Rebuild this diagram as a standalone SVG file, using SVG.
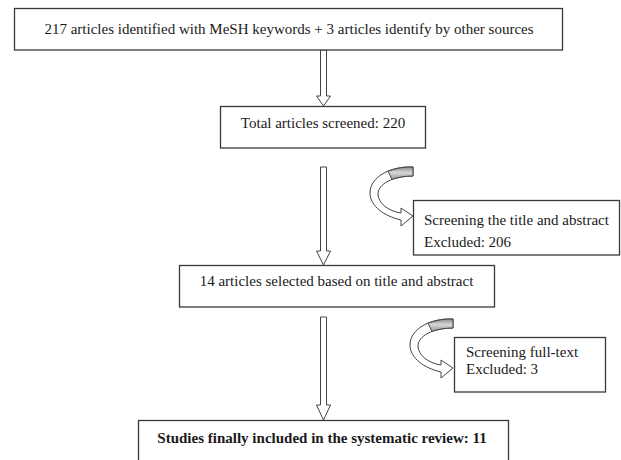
<svg xmlns="http://www.w3.org/2000/svg" width="621" height="460" viewBox="0 0 621 460">
  <style>
    .box { fill: #ffffff; stroke: #3a3a3a; stroke-width: 1.3; }
    .lbl { font-family: "Liberation Serif", "Times New Roman", serif; font-size: 15px; fill: #1a1a1a; }
    .mid { text-anchor: middle; }
    .bold { font-weight: bold; }
    .blk { fill: #ffffff; stroke: #444444; stroke-width: 1; stroke-linejoin: miter; }
    .back { fill: url(#backShade); stroke: #444444; stroke-width: 1; }
  </style>
  <defs>
    <linearGradient id="backShade" x1="0" y1="0" x2="0" y2="1">
      <stop offset="0" stop-color="#8a8a8a"/>
      <stop offset="0.45" stop-color="#d6d6d6"/>
      <stop offset="1" stop-color="#9c9c9c"/>
    </linearGradient>
    <!-- curved block arrow that bends left and points right into a side box -->
    <g id="curvedArrow">
      <path class="blk" d="M 413 167 C 390 166, 370 177, 370 193 C 370 206, 384 216, 401 220 L 401 226 L 413 216 L 401 208 L 401 213 C 388 211, 378 203, 378 194 C 378 184, 393 176, 413 176 Z"/>
      <path class="back" d="M 413 167 C 404 166.6, 395 168.5, 388 171.2 L 392 179.4 C 398 177, 406 176, 413 176 Z"/>
    </g>
  </defs>

  <rect width="621" height="460" fill="#ffffff"/>

  <g id="connectors">
    <!-- hollow block arrows down the main column -->
    <path class="blk" d="M 320.5 50 L 326.5 50 L 326.5 96 L 330.5 96 L 323.5 106 L 316.5 96 L 320.5 96 Z"/>
    <path class="blk" d="M 320.5 167 L 326.5 167 L 326.5 251 L 330.5 251 L 323.5 265 L 316.5 251 L 320.5 251 Z"/>
    <path class="blk" d="M 320.5 317 L 326.5 317 L 326.5 405 L 330.5 405 L 323.5 420 L 316.5 405 L 320.5 405 Z"/>
    <!-- exclusion branches -->
    <use href="#curvedArrow"/>
    <use href="#curvedArrow" transform="translate(40,152)"/>
  </g>

  <g id="identified">
    <rect class="box" x="14.5" y="8.5" width="548" height="41.5"/>
    <text class="lbl mid" x="289" y="34">217 articles identified with MeSH keywords + 3 articles identify by other sources</text>
  </g>

  <g id="screened">
    <rect class="box" x="220.5" y="106.5" width="205" height="41.5"/>
    <text class="lbl mid" x="323" y="128">Total articles screened: 220</text>
  </g>

  <g id="excluded-title-abstract">
    <rect class="box" x="413.5" y="200.5" width="206" height="54.5"/>
    <text class="lbl" x="424" y="225">Screening the title and abstract</text>
    <text class="lbl" x="424" y="247">Excluded: 206</text>
  </g>

  <g id="selected">
    <rect class="box" x="179.5" y="265.5" width="315" height="41.5"/>
    <text class="lbl mid" x="336.5" y="286">14 articles selected based on title and abstract</text>
  </g>

  <g id="excluded-full-text">
    <rect class="box" x="454.5" y="337.5" width="151" height="54.5"/>
    <text class="lbl" x="466" y="357">Screening full-text</text>
    <text class="lbl" x="466" y="374">Excluded: 3</text>
  </g>

  <g id="included">
    <rect class="box" x="138.5" y="420.5" width="370" height="45"/>
    <text class="lbl mid bold" x="322" y="443">Studies finally included in the systematic review: 11</text>
  </g>
</svg>
